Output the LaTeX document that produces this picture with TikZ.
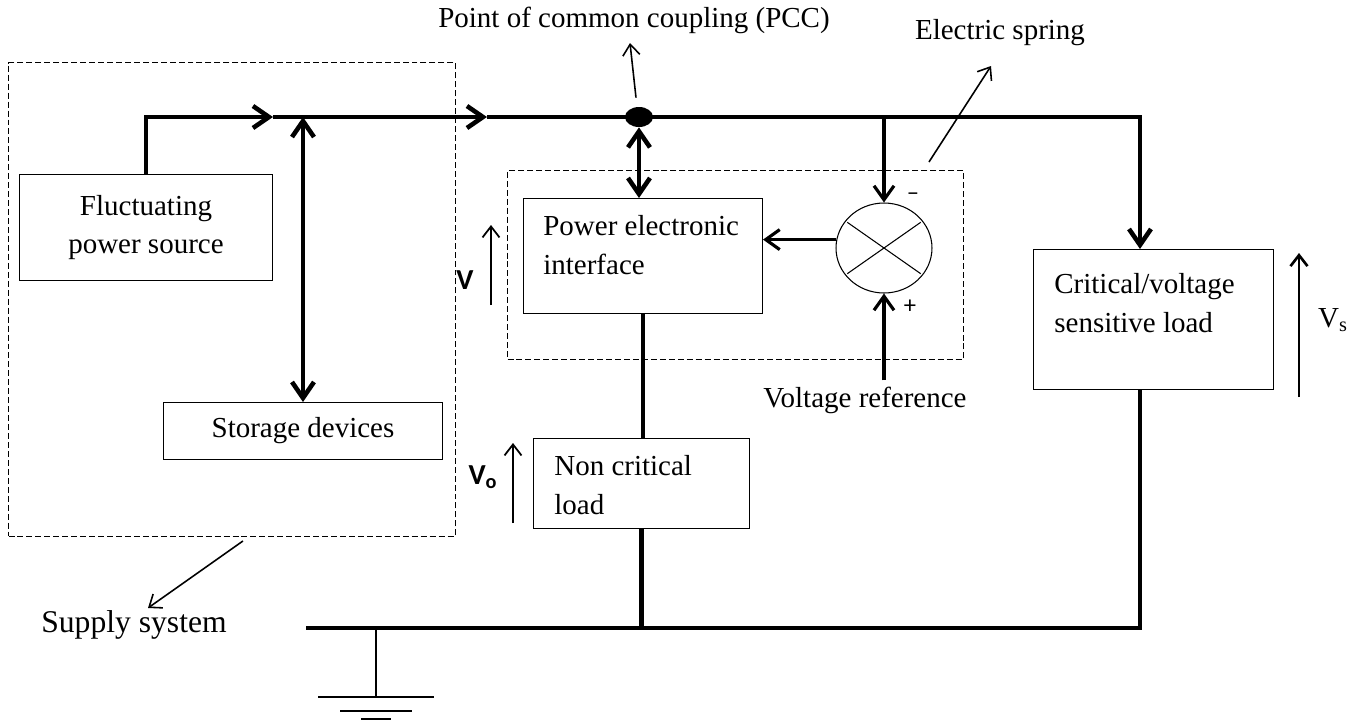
\documentclass[tikz,border=0pt]{standalone}
\usepackage{fontspec}
\setmainfont{Liberation Serif}
\newfontfamily\labelfont{Carlito}
\usetikzlibrary{arrows.meta,calc,positioning,shapes.geometric}

\begin{document}
\begin{tikzpicture}[
  x=0.02cm,y=-0.02cm,
  font=\fontsize{16.5}{21.8}\selectfont,
  bus/.style={line width=2.6pt},
  power/.style={bus,-{Straight Barb[length=3.2mm,width=4.4mm]}},
  twoway/.style={bus,{Straight Barb[length=3.2mm,width=4.4mm]}-{Straight Barb[length=3.2mm,width=4.4mm]}},
  signal/.style={line width=1.8pt,-{Straight Barb[length=2.8mm,width=4mm]}},
  pointer/.style={line width=0.9pt,-{Straight Barb[length=2.2mm,width=3.4mm]}},
  volt/.style={line width=1pt,-{Straight Barb[length=2.2mm,width=3.4mm]}},
  box/.style={draw,line width=0.6pt,inner sep=0pt},
  frame/.style={draw,line width=0.6pt,dash pattern=on 3.4pt off 1.7pt,inner sep=0pt},
  caption/.style={inner sep=0pt,align=left},
  sign/.style={font=\labelfont\fontsize{14}{14}\selectfont},
  vlabel/.style={font=\labelfont\bfseries\fontsize{16.5}{16.5}\selectfont},
  earthline/.style={line width=0.8pt}
]
\useasboundingbox (0,0) rectangle (1357,721);
% blocks
\node[frame,minimum width=8.94cm,minimum height=9.48cm,anchor=north west] (supply) at (8,62) {};
\node[box,minimum width=5.06cm,minimum height=2.12cm,anchor=north west,align=center] (source) at (19,174) {Fluctuating\\power source};
\node[box,minimum width=5.58cm,minimum height=1.14cm,anchor=north west] (storage) at (163,402) {Storage devices};
\node[frame,minimum width=9.12cm,minimum height=3.78cm,anchor=north west] (spring) at (507,170) {};
\node[box,minimum width=4.78cm,minimum height=2.3cm,anchor=north west] (pei) at (523,198) {};
\node[caption,anchor=west] at (543,245) {Power electronic\\interface};
\node[draw,ellipse,line width=0.6pt,minimum width=1.92cm,minimum height=1.8cm,inner sep=0pt] (mixer) at (884,248) {};
\node[box,minimum width=4.32cm,minimum height=1.8cm,anchor=north west] (noncrit) at (533,438) {};
\node[caption,anchor=west] at (554,485) {Non critical\\load};
\node[box,minimum width=4.8cm,minimum height=2.8cm,anchor=north west] (crit) at (1033,249) {};
\node[caption,anchor=west] at (1054,303) {Critical/voltage\\sensitive load};
% labels
\node (pcclabel) at (634,20) {Point of common coupling (PCC)};
\node (eslabel) at (1000,33) {Electric spring};
\node[font=\fontsize{18}{20}\selectfont] (supplylabel) at (134,625) {Supply system};
\node (vref) at (865,400) {Voltage reference};
\node[vlabel] (vpei) at (465,280) {V};
\node[vlabel] (vnc) at (483,477) {V\textsubscript{o}};
\node (vcrit) at (1333,320) {V\textsubscript{s}};
\node[sign] (minus) at (913,197) {–};
\node[sign] (plus) at (910,307) {+};
% bus points
\coordinate (mark1) at (273,117);
\coordinate (mark2) at (487,117);
\coordinate (corner) at (1140,117);
\coordinate (feed) at (145,117);
\coordinate (busend) at (306,628);
\coordinate (earth) at (376,628);
\coordinate (earthfoot) at (376,697);
\coordinate (pcctip) at (630,43);
\coordinate (estip) at (991,66);
\coordinate (supplytip) at (148,608);
% wiring
\draw[power] (source.north) |- (mark1);
\draw[power] (mark1) -- (mark2);
\draw[power] (mark2) -- (corner) -- (corner |- crit.north);
\draw[bus] (crit.south -| corner) -- (corner |- busend) -- (busend);
\node[fill,ellipse,minimum width=0.56cm,minimum height=0.4cm,inner sep=0pt] (pcc) at (639,117) {};
\draw[twoway] (storage.north |- feed) -- (storage.north);
\draw[twoway] (pcc.south) -- (pcc.south |- pei.north);
\draw[signal] (mixer.north |- feed) -- (mixer.north);
\draw[signal] (mixer.170) -- (mixer.170 -| pei.east);
\draw[signal] (mixer.south |- vref.north) -- (mixer.south);
\draw[bus] (pei.south) -- (pei.south |- noncrit.north);
\draw[bus] (noncrit.south) -- (noncrit.south |- busend);
\draw[line width=0.6pt,shorten <=1.5pt,shorten >=1.5pt] (mixer.145) -- (mixer.-35);
\draw[line width=0.6pt,shorten <=1.5pt,shorten >=1.5pt] (mixer.215) -- (mixer.35);
% ground
\draw[earthline] (earth) -- (earthfoot);
\foreach \dy/\w in {0/58,14/36,22/15}
  \draw[earthline] ($(earthfoot)+(-\w,\dy)$) -- ($(earthfoot)+(\w,\dy)$);
% pointers
\draw[pointer] ($(pcc.north)+(-3,-9)$) -- (pcctip);
\draw[pointer] ($(spring.north east)+(-35,-8)$) -- (estip);
\draw[pointer] ($(supply.south)+(11,4)$) -- (supplytip);
\draw[volt] (491,305) -- (491,225);
\draw[volt] (513,523) -- (513,443);
\draw[volt,line width=1.5pt] (1299,397) -- (1299,253);
\end{tikzpicture}
\end{document}
